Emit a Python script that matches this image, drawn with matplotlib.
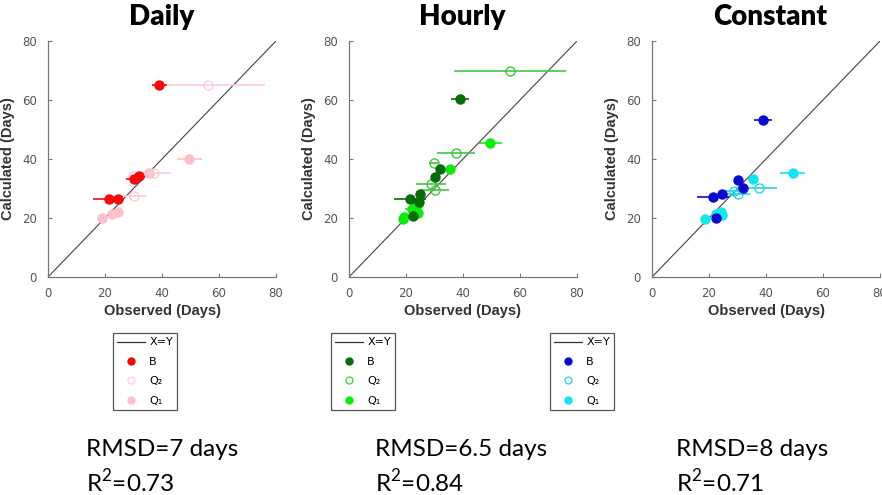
"""Observed vs calculated days for three temperature input modes."""

import matplotlib
matplotlib.use('Agg')
import matplotlib.pyplot as plt
from matplotlib.lines import Line2D

plt.rcParams['mathtext.fontset'] = 'custom'
plt.rcParams['mathtext.rm'] = 'Lato'

# Daily
daily_b_x = [39.1, 21.3, 24.4, 30.0, 32.1]
daily_b_y = [65.1, 26.3, 26.3, 33.2, 34.2]
daily_b_err = [2.7, 5.5, 1.5, 2.5, 1.5]
daily_q2_x = [56.3, 37.3, 30.2, 29.8]
daily_q2_y = [65.1, 35.1, 27.4, 34.3]
daily_q2_err = [20.0, 6.0, 4.4, 1.5]
daily_q1_x = [49.5, 35.3, 18.9, 22.4, 24.4]
daily_q1_y = [40.1, 35.1, 20.0, 21.2, 22.1]
daily_q1_err = [4.4, 1.5, 1.0, 1.0, 1.0]

# Hourly
hourly_b_x = [39.0, 21.3, 25.0, 22.4, 30.2, 32.0, 24.5]
hourly_b_y = [60.3, 26.5, 28.1, 20.7, 33.9, 36.7, 25.5]
hourly_b_err = [3.2, 5.6, 1.5, 1.5, 1.5, 1.5, 1.5]
hourly_q2_x = [56.6, 37.6, 29.7, 28.8, 30.2]
hourly_q2_y = [69.9, 42.1, 38.7, 31.5, 29.4]
hourly_q2_err = [19.7, 6.6, 1.5, 5.4, 5.0]
hourly_q1_x = [49.6, 35.5, 18.9, 19.3, 22.2, 24.2, 24.2]
hourly_q1_y = [45.3, 36.5, 19.7, 20.5, 22.9, 24.7, 21.7]
hourly_q1_err = [4.0, 1.5, 1.0, 1.0, 2.5, 2.0, 1.5]

# Constant
const_b_x = [38.9, 21.4, 24.5, 30.1, 32.1, 22.4]
const_b_y = [53.2, 27.2, 28.1, 33.0, 30.3, 20.0]
const_b_err = [3.2, 5.5, 1.5, 1.5, 1.5, 1.0]
const_q2_x = [37.4, 30.1, 28.6]
const_q2_y = [30.3, 28.1, 29.2]
const_q2_err = [6.5, 4.4, 2.5]
const_q1_x = [49.4, 35.3, 18.7, 22.5, 24.2, 24.5]
const_q1_y = [35.1, 33.2, 19.5, 21.5, 22.1, 20.9]
const_q1_err = [4.4, 1.5, 1.0, 1.0, 1.5, 1.0]

titles = ['Daily', 'Hourly', 'Constant']
rmsd_text = ['RMSD=7 days', 'RMSD=6.5 days', 'RMSD=8 days']
r2_text = ['R$^2$=0.73', 'R$^2$=0.84', 'R$^2$=0.71']
axis_ticks = [0, 20, 40, 60, 80]

panels = [
    {'b': (daily_b_x, daily_b_y, daily_b_err),
     'q2': (daily_q2_x, daily_q2_y, daily_q2_err),
     'q1': (daily_q1_x, daily_q1_y, daily_q1_err),
     'colors': ('#f40a0a', '#ffcdd2', '#fcc0c8')},
    {'b': (hourly_b_x, hourly_b_y, hourly_b_err),
     'q2': (hourly_q2_x, hourly_q2_y, hourly_q2_err),
     'q1': (hourly_q1_x, hourly_q1_y, hourly_q1_err),
     'colors': ('#0b6a0b', '#3ec83e', '#10ea10')},
    {'b': (const_b_x, const_b_y, const_b_err),
     'q2': (const_q2_x, const_q2_y, const_q2_err),
     'q1': (const_q1_x, const_q1_y, const_q1_err),
     'colors': ('#0a0acc', '#20d8e4', '#14e6f0')},
]

axes_left = [48, 349, 652]      # pixels
title_x = [162, 462, 770]
legend_cx = [145, 363, 582]
text_x = [86, 375, 676]

W, H = 882, 495
fig = plt.figure(figsize=(W / 100, H / 100), dpi=100)

for i, p in enumerate(panels):
    ax = fig.add_axes([axes_left[i] / W, 1 - 277 / H, 228 / W, 236 / H])
    c_b, c_q2, c_q1 = p['colors']

    ax.plot([0, 80], [0, 80], color='#444444', lw=0.8, zorder=1)

    x, y, e = p['q1']
    ax.errorbar(x, y, xerr=e, fmt='o', color=c_q1, ms=6.5, lw=1.2,
                capsize=0, zorder=2)
    x, y, e = p['q2']
    ax.errorbar(x, y, xerr=e, fmt='o', color=c_q2, mfc='none', mec=c_q2,
                ms=6.5, mew=1.0, lw=1.2, capsize=0, zorder=3)
    x, y, e = p['b']
    ax.errorbar(x, y, xerr=e, fmt='o', color=c_b, ms=6.5, lw=1.2,
                capsize=0, zorder=4)

    ax.set_xlim(0, 80)
    ax.set_ylim(0, 80)
    ax.set_xticks(axis_ticks)
    ax.set_yticks(axis_ticks)
    for s in ['top', 'right']:
        ax.spines[s].set_visible(False)
    for s in ['left', 'bottom']:
        ax.spines[s].set_color('#777777')
        ax.spines[s].set_linewidth(0.9)
    ax.tick_params(direction='in', length=3, width=0.8, colors='#777777',
                   labelcolor='#555555', labelsize=8.5)
    ax.tick_params(axis='x', pad=7)
    ax.tick_params(axis='y', pad=8)
    ax.set_xlabel('Observed (Days)', fontsize=10.5, fontweight='bold',
                  color='#333333', family='Liberation Sans', labelpad=3)
    ax.set_ylabel('Calculated (Days)', fontsize=10.5, fontweight='bold',
                  color='#333333', family='Liberation Sans', labelpad=5)

    fig.text(title_x[i] / W, 1 - 17 / H, titles[i], fontsize=20,
             fontweight='heavy', family='Lato', ha='center', va='center')

    handles = [
        Line2D([], [], color='#333333', lw=0.9),
        Line2D([], [], ls='none', marker='o', color=c_b, ms=5),
        Line2D([], [], ls='none', marker='o', mfc='none', mec=c_q2, ms=5,
               mew=0.9),
        Line2D([], [], ls='none', marker='o', color=c_q1, ms=5),
    ]
    leg = fig.legend(handles, ['X=Y', 'B', 'Q\u2082', 'Q\u2081'],
                     loc='upper center',
                     bbox_to_anchor=(legend_cx[i] / W, 1 - 333 / H),
                     fontsize=8, frameon=True, fancybox=False,
                     edgecolor='#555555', framealpha=1, handlelength=2.5,
                     handletextpad=0.4, labelspacing=0.85, borderpad=0.4,
                     borderaxespad=0)
    leg.get_frame().set_linewidth(0.9)

    fig.text(text_x[i] / W, 1 - 450 / H, rmsd_text[i], fontsize=17.5,
             family='Lato', ha='left', va='center')
    fig.text(text_x[i] / W, 1 - 482 / H, r2_text[i], fontsize=17.5,
             family='Lato', ha='left', va='center')

fig.savefig('out.png', dpi=100)
